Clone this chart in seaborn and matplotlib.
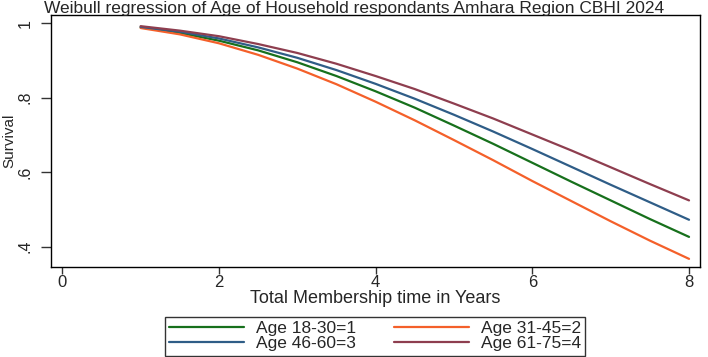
import pandas as pd
import seaborn as sns
import matplotlib.pyplot as plt

# survival, t = 1 .. 8 in half-year steps
years = [1, 1.5, 2, 2.5, 3, 3.5, 4, 4.5, 5, 5.5, 6, 6.5, 7, 7.5, 8]
age_18_30 = [0.989, 0.974, 0.953, 0.927, 0.895, 0.858, 0.817, 0.773, 0.725, 0.676, 0.625, 0.574, 0.524, 0.474, 0.426]
age_31_45 = [0.987, 0.970, 0.946, 0.915, 0.878, 0.836, 0.789, 0.739, 0.686, 0.632, 0.576, 0.522, 0.468, 0.416, 0.367]
age_46_60 = [0.990, 0.977, 0.959, 0.935, 0.907, 0.874, 0.837, 0.797, 0.754, 0.709, 0.662, 0.614, 0.566, 0.519, 0.472]
age_61_75 = [0.992, 0.980, 0.965, 0.944, 0.920, 0.891, 0.858, 0.823, 0.784, 0.744, 0.701, 0.658, 0.613, 0.568, 0.524]

labels = ['Age 18-30=1', 'Age 31-45=2', 'Age 46-60=3', 'Age 61-75=4']
colors = ['#17701c', '#f4602a', '#2f5d87', '#8e3e4f']


def weibull_plot():
    df = pd.DataFrame({'t': years * 4,
                       'survival': age_18_30 + age_31_45 + age_46_60 + age_61_75,
                       'group': [l for l in labels for _ in years]})

    sns.set_style('white')
    plt.rcParams['font.family'] = ['Liberation Sans', 'DejaVu Sans']

    fig = plt.figure(figsize=(7.08, 3.57), dpi=100)
    ax = fig.add_axes([0.0716, 0.253, 0.9171, 0.705])

    sns.lineplot(data=df, x='t', y='survival', hue='group', hue_order=labels,
                 palette=dict(zip(labels, colors)), linewidth=1.6, ax=ax, legend=False)

    ax.set_xlim(-0.148, 8.14)
    ax.set_ylim(0.346, 1.022)
    ax.set_xticks([0, 2, 4, 6, 8])
    ax.set_yticks([0.4, 0.6, 0.8, 1.0])
    ax.set_yticklabels(['.4', '.6', '.8', '1'], rotation=90, va='center')
    ax.tick_params(axis='x', direction='out', length=5, width=1, color='#333333',
                   labelsize=12, pad=1, bottom=True)
    ax.tick_params(axis='y', direction='out', length=7, width=1, color='#333333',
                   labelsize=11.5, pad=6, left=True)
    for s in ax.spines.values():
        s.set_color('black')
        s.set_linewidth(1)

    ax.set_xlabel('Total Membership time in Years', fontsize=13, labelpad=0)
    ax.set_ylabel('Survival', fontsize=11, labelpad=1)

    fig.text(0.5, 1 - 13 / 357, 'Weibull regression of Age of Household respondants Amhara Region CBHI 2024',
             ha='center', va='baseline', fontsize=12.5)

    handles = [plt.Line2D([], [], color=c, lw=1.6) for c in colors]
    # column order like stata: row 1 = 1, 2 ; row 2 = 3, 4
    order = [0, 2, 1, 3]
    fig.legend([handles[i] for i in order], [labels[i] for i in order],
               loc='lower center', bbox_to_anchor=(0.5297, 0.004), ncol=2,
               fontsize=12.5, frameon=True, fancybox=False, edgecolor='black',
               handlelength=4.3, columnspacing=2.2, labelspacing=0.0,
               borderpad=0.25, handletextpad=0.7, borderaxespad=0)

    fig.savefig('out.png', dpi=100)


def main():
    weibull_plot()


if (__name__ == '__main__'):
    main()
